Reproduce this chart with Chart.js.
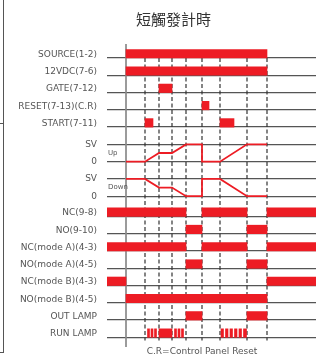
<!DOCTYPE html>
<html>
<head>
<meta charset="utf-8">
<script src="https://cdn.jsdelivr.net/npm/chart.js@4.4.0/dist/chart.umd.min.js"></script>
<style>
  html, body { margin: 0; padding: 0; background: #fff; }
  #wrap { position: relative; width: 316px; height: 357px; }
  #edge { position: absolute; left: 3px; top: 0; width: 1px; height: 353px; background: #555; }
  .foot { position: absolute; left: 0; width: 4px; height: 1px; background: #555; }
</style>
</head>
<body>
<div id="wrap">
  <canvas id="timing_chart" width="316" height="357"></canvas>
  <div id="edge"></div>
  <div class="foot" style="top:123px"></div>
  <div class="foot" style="top:352px"></div>
</div>
<script>
// momentet e ngjarjeve (vijat me ndërprerje), njesi arbitrare
const eventTimes = [19, 33, 46, 60, 76, 94, 121, 141];
const tMin = -19, tMax = 190;

const title = '短觸發計時';
const footnote = 'C.R=Control Panel Reset';

// emrat e sinjaleve dixhitale dhe intervalet kur jane ON
const rowNames = ['SOURCE(1-2)', '12VDC(7-6)', 'GATE(7-12)', 'RESET(7-13)(C.R)', 'START(7-11)',
  'NC(9-8)', 'NO(9-10)', 'NC(mode A)(4-3)', 'NO(mode A)(4-5)', 'NC(mode B)(4-3)', 'NO(mode B)(4-5)',
  'OUT LAMP', 'RUN LAMP'];
const rowBars = [
  [[0, 141]],
  [[0, 141]],
  [[33, 46]],
  [[76, 83]],
  [[19, 27], [94, 108]],
  [[-19, 60], [76, 121], [141, 190]],
  [[60, 76], [121, 141]],
  [[-19, 60], [76, 121], [141, 190]],
  [[60, 76], [121, 141]],
  [[-19, 0], [141, 190]],
  [[0, 141]],
  [[60, 76], [121, 141]],
  [[21.5, 23.5], [25, 27], [28.5, 30.5], [33, 46], [48.5, 50.5], [52, 54], [55.5, 57.5],
   [95, 97.5], [99.5, 102], [104, 106.5], [108.5, 111], [113, 115.5], [117.5, 120.5]]
];

// sinjalet analoge Up / Down (0 deri SV)
const svTimes = [0, 19, 33, 46, 60, 76, 76, 94, 121, 141];
const svUp = [0, 0, 0.5, 0.5, 1, 1, 0, 0, 1, 1];
const svDown = [1, 1, 0.5, 0.5, 0, 0, 1, 1, 0, 0];
const svNames = ['Up', 'Down'];
const svTickLabels = ['SV', '0'];

const RED = '#ED1C24';
const FONT = 'DejaVu Sans';

// pozicioni vertikal i cdo rreshti (5 te parat, pastaj 2 blloqe analoge, pastaj pjesa tjeter)
function rowPos(i) {
  return i < 5 ? i : i + 4.17;
}
function analogTop(k) {
  return 5 + 2 * k;
}

// tick-et e boshtit y: vija baze + etiketat
var tickVals = [], tickTexts = [], tickLine = [];
rowNames.forEach(function (name, i) {
  tickVals.push(rowPos(i)); tickTexts.push(''); tickLine.push(true);
  tickVals.push(rowPos(i) - 0.2); tickTexts.push(name); tickLine.push(false);
});
svNames.forEach(function (n, k) {
  tickVals.push(analogTop(k)); tickTexts.push(svTickLabels[0]); tickLine.push(true);
  tickVals.push(analogTop(k) + 1); tickTexts.push(svTickLabels[1]); tickLine.push(true);
});

var barItems = [];
rowBars.forEach(function (bars, i) {
  bars.forEach(function (b) { barItems.push({ x: b, y: rowPos(i) - 0.245 }); });
});

function svPoints(levels, k) {
  return svTimes.map(function (t, j) { return { x: t, y: analogTop(k) + 1 - levels[j] }; });
}

var datasets = [{
  type: 'bar', indexAxis: 'y', data: barItems, backgroundColor: RED, borderWidth: 0,
  barThickness: 8.5, grouped: false, order: 0
}, {
  type: 'line', data: svPoints(svUp, 0), borderColor: RED, borderWidth: 1.8,
  pointRadius: 0, fill: false, tension: 0, order: 1
}, {
  type: 'line', data: svPoints(svDown, 1), borderColor: RED, borderWidth: 1.8,
  pointRadius: 0, fill: false, tension: 0, order: 1
}, {
  // boshti i kohes (vija e plote)
  type: 'line', data: [{ x: 0, y: -0.81 }, { x: 0, y: 16.75 }], borderColor: '#8a8a8a',
  borderWidth: 1.7, pointRadius: 0, fill: false, order: 3
}];
eventTimes.forEach(function (t) {
  datasets.push({
    type: 'line', data: [{ x: t, y: 0 }, { x: t, y: 16.36 }], borderColor: '#333',
    borderWidth: 1.2, borderDash: [4, 2.5], pointRadius: 0, fill: false, order: 2
  });
});

// titulli dhe etiketat e vogla Up / Down
const extraText = {
  id: 'extraText',
  afterDatasetsDraw(chart) {
    const ctx = chart.ctx, x = chart.scales.x, y = chart.scales.y;
    ctx.save();
    ctx.fillStyle = '#333';
    ctx.textAlign = 'center';
    ctx.textBaseline = 'middle';
    ctx.font = '15px "Noto Sans CJK TC"';
    ctx.fillText(title, chart.width / 2 + 15.5, 19);
    ctx.textAlign = 'left';
    ctx.font = '7px "' + FONT + '"';
    ctx.fillStyle = '#555';
    svNames.forEach(function (n, k) {
      ctx.fillText(n, x.getPixelForValue(tMin) + 1, y.getPixelForValue(analogTop(k) + 0.5));
    });
    ctx.restore();
  }
};

new Chart(document.getElementById('timing_chart'), {
  type: 'bar',
  data: { datasets: datasets },
  plugins: [extraText],
  options: {
    responsive: false,
    animation: false,
    layout: { padding: { left: 0, right: 0, top: 44, bottom: 0 } },
    plugins: {
      legend: { display: false },
      tooltip: { enabled: false },
      title: { display: false }
    },
    scales: {
      x: {
        type: 'linear', min: tMin, max: tMax, offset: false,
        afterBuildTicks: function (axis) { axis.ticks = [{ value: eventTimes[4] }]; },
        afterFit: function (axis) { axis.height = 10; axis.paddingLeft = 0; axis.paddingRight = 0; },
        ticks: {
          autoSkip: false, maxRotation: 0, padding: 0, color: '#555',
          font: { family: FONT, size: 9, lineHeight: 1 },
          callback: function () { return footnote; }
        },
        grid: { display: false, drawTicks: false, offset: false },
        border: { display: false }
      },
      y: {
        type: 'linear', reverse: true, min: -0.81, max: 16.73, offset: false,
        afterBuildTicks: function (axis) {
          axis.ticks = tickVals.map(function (v) { return { value: v }; });
        },
        afterFit: function (axis) { axis.width = 107; axis.paddingTop = 0; axis.paddingBottom = 0; },
        ticks: {
          autoSkip: false, padding: 10, color: '#555',
          font: { family: FONT, size: 9 },
          callback: function (v, i) { return tickTexts[i]; }
        },
        grid: {
          offset: false, drawTicks: false, lineWidth: 1.2,
          color: function (c) { return tickLine[c.index] ? '#555' : 'rgba(0,0,0,0)'; }
        },
        border: { display: false }
      }
    }
  }
});
</script>
</body>
</html>
